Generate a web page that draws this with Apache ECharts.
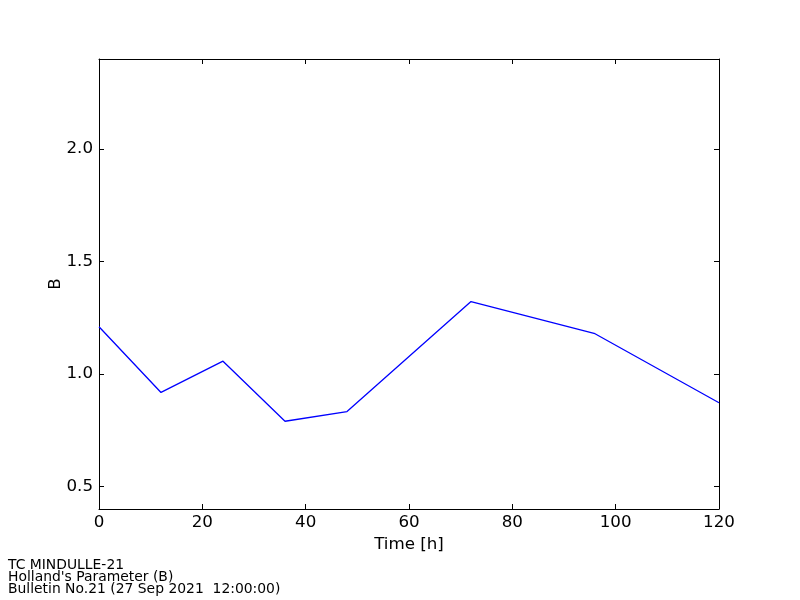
<!DOCTYPE html>
<html>
<head>
<meta charset="utf-8">
<script src="https://cdn.jsdelivr.net/npm/echarts@6/dist/echarts.min.js"></script>
<style>html,body{margin:0;padding:0;background:#fff;}#c{width:800px;height:600px;}</style>
</head>
<body>
<div id="c"></div>
<script>
const hours = [0, 12, 24, 36, 48, 72, 96, 120];
const bValues = [1.210, 0.918, 1.057, 0.790, 0.833, 1.322, 1.179, 0.872];
const xTicks = [0, 20, 40, 60, 80, 100, 120];
const yTicks = [0.5, 1.0, 1.5, 2.0];
const footerLines = ["TC MINDULLE-21", "Holland's Parameter (B)", "Bulletin No.21 (27 Sep 2021  12:00:00)"];

const FONT = 'DejaVu Sans';
const chart = echarts.init(document.getElementById('c'), null, {renderer: 'canvas'});
const xBase = {
  type: 'value', min: 0, max: 120, interval: 20,
  axisLine: {show: true, onZero: false, lineStyle: {color: '#000', width: 1}},
  axisTick: {show: true, inside: true, length: 5, lineStyle: {color: '#000'}},
  splitLine: {show: false}
};
const yBase = {
  type: 'value', min: 0.4, max: 2.4,
  axisLine: {show: true, onZero: false, lineStyle: {color: '#000', width: 1}},
  axisTick: {show: true, inside: true, length: 5, customValues: yTicks, lineStyle: {color: '#000'}},
  splitLine: {show: false}
};
chart.setOption({
  animation: false,
  backgroundColor: '#fff',
  grid: {left: 99, top: 59, width: 620, height: 450, containLabel: false},
  xAxis: [
    Object.assign({}, xBase, {
      position: 'bottom',
      name: 'Time [h]', nameLocation: 'middle', nameGap: 25,
      nameTextStyle: {fontFamily: FONT, fontSize: 16.7, color: '#000'},
      axisLabel: {show: true, margin: 5, fontFamily: FONT, fontSize: 16.7, color: '#000'}
    }),
    Object.assign({}, xBase, {position: 'top', axisLabel: {show: false}})
  ],
  yAxis: [
    Object.assign({}, yBase, {
      position: 'left',
      name: 'B', nameLocation: 'middle', nameGap: 35, nameRotate: 90, nameMoveOverlap: false,
      nameTextStyle: {fontFamily: FONT, fontSize: 16.7, color: '#000'},
      axisLabel: {show: true, margin: 6, fontFamily: FONT, fontSize: 16.7, color: '#000',
        customValues: yTicks, formatter: v => v.toFixed(1)}
    }),
    Object.assign({}, yBase, {position: 'right', axisLabel: {show: false}})
  ],
  series: [{
    type: 'line',
    data: hours.map((h, i) => [h, bValues[i]]),
    showSymbol: false, symbol: 'none',
    lineStyle: {color: '#0000ff', width: 1.3},
    itemStyle: {color: '#0000ff'}
  }],
  graphic: footerLines.map((t, i) => ({
    type: 'text', left: 8, top: 558 + i * 12,
    style: {text: t, fontFamily: FONT, fontSize: 13.9, fill: '#000'}
  }))
});
</script>
</body>
</html>
